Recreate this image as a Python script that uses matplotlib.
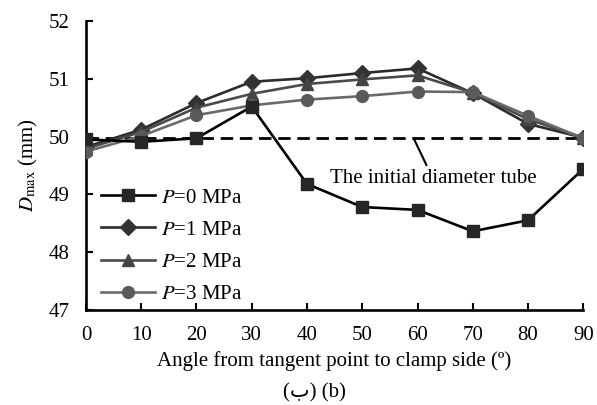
"""Recreate D_max vs angle chart for different internal pressures."""
import matplotlib
matplotlib.use("Agg")
import matplotlib.pyplot as plt

plt.rcParams["font.family"] = ["Liberation Serif", "DejaVu Sans"]
plt.rcParams["mathtext.fontset"] = "stix"

# Data
angles = [0, 10, 20, 30, 40, 50, 60, 70, 80, 90]
p0 = [49.95, 49.91, 49.97, 50.52, 49.18, 48.78, 48.73, 48.36, 48.55, 49.44]
p1 = [49.82, 50.12, 50.58, 50.95, 51.01, 51.10, 51.18, 50.75, 50.22, 49.98]
p2 = [49.79, 50.08, 50.50, 50.74, 50.91, 50.99, 51.06, 50.76, 50.30, 49.98]
p3 = [49.74, 50.01, 50.37, 50.54, 50.64, 50.70, 50.78, 50.77, 50.36, 49.97]
initial_diameter = 49.97

series = [
    ("P=1", p1, "D", "#2b2b2b", "#333333", 8),
    ("P=2", p2, "^", "#4a4a4a", "#444444", 8.5),
    ("P=3", p3, "o", "#6a6a6a", "#5a5a5a", 8.5),
    ("P=0", p0, "s", "#000000", "#262626", 8.5),
]
legend_order = ["P=0", "P=1", "P=2", "P=3"]

fig = plt.figure(figsize=(5.97, 4.05), dpi=100)
ax = fig.add_axes([0.144, 0.235, 0.833, 0.713])

handles = {}
for i, (name, vals, mk, lc, mc, ms) in enumerate(series):
    (h,) = ax.plot(angles, vals, color=lc, linewidth=1.9, marker=mk,
                   markersize=ms, markerfacecolor=mc, markeredgecolor=mc,
                   zorder=3 + i)
    handles[name] = h

ax.axhline(initial_diameter, color="black", linewidth=2.0,
           linestyle=(0, (4.5, 2.4)), zorder=2)

ax.annotate("The initial diameter tube", xy=(59.3, initial_diameter),
            xytext=(62.8, 49.27), ha="center", va="center", fontsize=15,
            arrowprops=dict(arrowstyle="-", color="black", lw=1.5,
                            shrinkA=1, shrinkB=0))

labels = [r"$P$=" + n.split("=")[1] + " MPa" for n in legend_order]
ax.legend([handles[n] for n in legend_order], labels, loc="lower left",
          bbox_to_anchor=(0.0, -0.03), frameon=False, fontsize=15,
          handlelength=2.6, handletextpad=0.3, labelspacing=0.6,
          borderaxespad=0.3)

ax.set_xlim(0, 90)
ax.set_ylim(47, 52)
ax.set_xticks(range(0, 91, 10))
ax.set_yticks([47, 48, 49, 50, 51, 52])
ax.tick_params(direction="in", length=5, width=1.5, labelsize=15)
ax.tick_params(axis="x", pad=12)
ax.tick_params(axis="y", pad=12)
ax.spines[["top", "right"]].set_visible(False)
for s in ("left", "bottom"):
    ax.spines[s].set_linewidth(1.9)

ax.set_xlabel("Angle from tangent point to clamp side (º)", fontsize=15,
              labelpad=4)
ax.set_ylabel(r"$D_{\mathrm{max}}$ (mm)", fontsize=15, labelpad=6)

fig.text(0.526, 0.03, "(ب) (b)", ha="center", va="center", fontsize=15)

fig.savefig("out.png", dpi=100)
